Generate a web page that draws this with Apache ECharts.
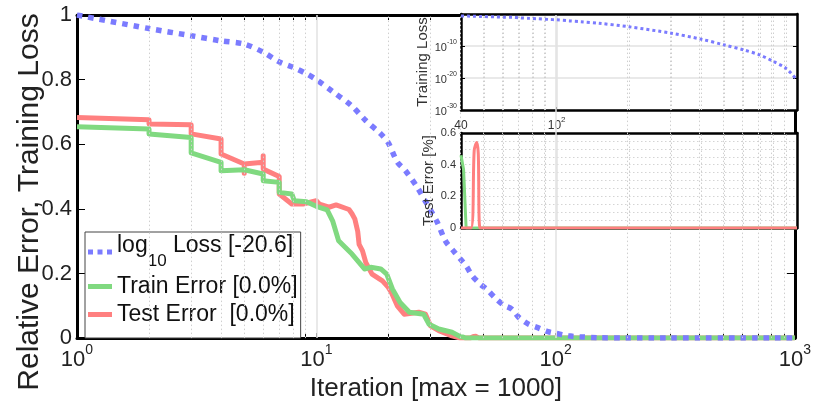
<!DOCTYPE html>
<html>
<head>
<meta charset="utf-8">
<script src="https://cdn.jsdelivr.net/npm/echarts@6/dist/echarts.min.js"></script>
<style>
html, body { margin: 0; padding: 0; background: #fff; }
#chart { width: 814px; height: 407px; }
</style>
</head>
<body>
<div id="chart"></div>
<script>
const lossIter = [1, 2, 3, 4, 5, 6, 7, 8, 9, 10, 11.7, 14, 16, 18.6, 20, 21.8, 23.6, 26.4, 29, 32,
    34.7, 37.6, 40, 42.6, 44.8, 48.5, 51.7, 56, 60.7, 65.6, 70, 77, 83, 93, 100, 113, 126,
    150, 200, 300, 400, 500, 600, 700, 800, 900, 1000];
const lossVal = [1, 0.958, 0.936, 0.92, 0.91, 0.885, 0.855, 0.838, 0.82, 0.80, 0.763, 0.72, 0.675, 0.632, 0.604, 0.545, 0.518, 0.467, 0.415, 0.359,
    0.30, 0.268, 0.245, 0.22, 0.193, 0.167, 0.15, 0.124, 0.102, 0.09, 0.065, 0.043, 0.034, 0.02, 0.015, 0.007, 0.004,
    1.3e-3, 1e-4, 1e-6, 1.3e-8, 2e-10, 6e-12, 1.6e-13, 1.3e-15, 1e-17, 2.5e-21];

// relative train error
const trainIter = [1, 2, 2, 3, 3, 4, 4, 5, 6, 6, 7, 7, 7.9, 8.1, 9.1, 10, 11.1, 11.7, 12.4, 13.2,
    14.1, 14.9, 15.9, 16.9, 18.6, 19.7, 20.8, 22.4, 24.5, 28.1, 29.6, 32.5, 36.9, 40, 41, 42, 1000];
const trainErr = [0.654, 0.647, 0.632, 0.621, 0.573, 0.544, 0.518, 0.521, 0.508, 0.487, 0.482, 0.451, 0.446, 0.425, 0.422, 0.408, 0.397, 0.363, 0.301, 0.281,
    0.26, 0.239, 0.214, 0.219, 0.214, 0.198, 0.152, 0.11, 0.08, 0.074, 0.043, 0.028, 0.018, 0.0046, 0.0037, 0, 0];

// relative test error
const testIter = [1, 2, 2, 3, 3, 4, 4, 5, 5, 5, 6, 6, 6, 7, 7, 7.9, 8.8, 10, 10.3, 11.3,
    12.1, 13.7, 14.1, 14.5, 14.9, 15.1, 15.6, 16.1, 17.1, 18.9, 20, 20.6, 21.8, 23.3, 26.8,
    28.6, 30, 32.5, 36.9, 40, 44, 45.4, 46.5, 47.2, 48, 1000];
const testErr = [0.683, 0.676, 0.663, 0.66, 0.632, 0.616, 0.57, 0.539, 0.51, 0.539, 0.544, 0.564, 0.523, 0.50, 0.446, 0.415, 0.415, 0.425, 0.415, 0.405,
    0.412, 0.398, 0.385, 0.368, 0.33, 0.29, 0.27, 0.234, 0.198, 0.177, 0.157, 0.141, 0.1, 0.074, 0.08,
    0.074, 0.038, 0.023, 0.007, 0, 0, 0.0049, 0.0054, 0.0047, 0, 0];

// ticks of the log x axis, its dotted minor and solid major grid lines
const xTicks = [1, 2, 3, 4, 5, 6, 7, 8, 9, 10, 20, 30, 40, 50, 60, 70, 80, 90, 100, 200, 300, 400, 500, 600, 700, 800, 900, 1000];
const minorX = [2, 3, 4, 5, 6, 7, 8, 9, 20, 30, 40, 50, 60, 70, 80, 90, 200, 300, 400, 500, 600, 700, 800, 900];
const majorX = [10, 100];
const insetMinorX = [50, 60, 70, 80, 90, 200, 300, 400, 500, 600, 700, 800, 900];

const names = ['log10 Loss [-20.6]', 'Train Error [0.0%]', 'Test Error  [0.0%]'];
const insetStart = 40;

const pairs = (xs, ys) => xs.map((x, i) => [x, ys[i]]);
const fromInset = (xs, ys, f) => pairs(xs, ys).filter(p => p[0] >= insetStart).map(p => [p[0], f(p[1])]);

const BLUE = '#7b7bff', GREEN = '#80d980', RED = '#ff8080';
const FONT = 'Liberation Sans, Arial, Helvetica, sans-serif';

const powLabel = e => '{b|10}{s|' + e + '}';

const frame = (w) => ({ show: true, onZero: false, lineStyle: { color: '#000', width: w } });

const DOTTED = { color: '#cfcfcf', width: 1, type: [1.5, 2.5] };
const SOLID = { color: '#e2e2e2', width: 1.5, type: 'solid' };

const gridLines = (xi, yi, vals, z, style) => ({
    type: 'line', xAxisIndex: xi, yAxisIndex: yi, data: [], z: z, silent: true,
    markLine: {
        silent: true, symbol: 'none', animation: false,
        label: { show: false },
        lineStyle: style,
        data: vals.map(v => ({ xAxis: v }))
    }
});

const chart = echarts.init(document.getElementById('chart'));

const option = {
    animation: false,
    textStyle: { fontFamily: FONT },
    grid: [
        { left: 77, top: 15, width: 720, height: 324 },
        { left: 461, top: 14, width: 336, height: 96, show: true, backgroundColor: '#fff', borderWidth: 0, z: 3 },
        { left: 461, top: 133, width: 336, height: 95, show: true, backgroundColor: '#fff', borderWidth: 0, z: 3 }
    ],
    legend: {
        data: [
            { name: names[0], icon: 'path://M0,0h5v5h-5zM9.5,0h5v5h-5zM19,0h5v5h-5z' },
            { name: names[1], icon: 'path://M0,0h24v5h-24z' },
            { name: names[2], icon: 'path://M0,0h24v5h-24z' }
        ],
        orient: 'vertical',
        left: 85, top: 232,
        padding: [2, 3, 12, 3],
        itemGap: 5,
        itemWidth: 24,
        itemHeight: 5,
        backgroundColor: '#fff',
        borderColor: '#444',
        borderWidth: 1,
        borderRadius: 0,
        textStyle: {
            fontSize: 23, color: '#111', lineHeight: 23,
            rich: {
                n: { fontSize: 23, color: '#111', lineHeight: 36, verticalAlign: 'top' },
                sub: { fontSize: 17, color: '#111', lineHeight: 36, verticalAlign: 'bottom' }
            }
        },
        formatter: name => name.indexOf('log10') === 0
            ? '{n|log}{sub|10}{n|' + name.slice(5) + '}'
            : name
    },
    graphic: [{
        type: 'text', x: 30, y: 202, rotation: Math.PI / 2,
        style: {
            text: 'Relative Error, Training Loss', font: '30px ' + FONT,
            fill: '#222', align: 'center', verticalAlign: 'middle'
        }
    }],
    xAxis: [
        {   // main, bottom
            type: 'log', logBase: 10, min: 1, max: 1000, gridIndex: 0, position: 'bottom',
            axisLine: frame(3),
            axisTick: { show: true, inside: true, length: 5, customValues: xTicks, lineStyle: { color: '#000' } },
            axisLabel: {
                formatter: v => powLabel(Math.round(Math.log10(v))), margin: 5, color: '#222',
                rich: {
                    b: { fontSize: 22, lineHeight: 28, color: '#222', verticalAlign: 'bottom' },
                    s: { fontSize: 14, lineHeight: 14, color: '#222', verticalAlign: 'top' }
                }
            },
            splitLine: { show: false },
            name: 'Iteration [max = 1000]', nameLocation: 'middle', nameGap: 33,
            nameTextStyle: { fontSize: 26, color: '#222' }
        },
        {   // main, top frame
            type: 'log', logBase: 10, min: 1, max: 1000, gridIndex: 0, position: 'top',
            axisLine: frame(3),
            axisTick: { show: true, inside: true, length: 5, customValues: xTicks, lineStyle: { color: '#000' } },
            axisLabel: { show: false }, splitLine: { show: false }
        },
        {   // inset 1, bottom
            type: 'log', logBase: 10, min: insetStart, max: 1000, gridIndex: 1, z: 4,
            axisLine: frame(2.5),
            axisTick: { show: true, inside: true, length: 3, lineStyle: { color: '#000' } },
            axisLabel: {
                margin: 6, color: '#333', fontSize: 12,
                formatter: v => {
                    const r = Math.round(v);
                    if (r === insetStart) return '{b|' + r + '}';
                    return r === 100 ? powLabel(2) : '';
                },
                rich: {
                    b: { fontSize: 12, lineHeight: 16, color: '#333', verticalAlign: 'bottom' },
                    s: { fontSize: 8, lineHeight: 8, color: '#333', verticalAlign: 'top' }
                }
            },
            splitLine: { show: true, lineStyle: SOLID }
        },
        {   // inset 1, top frame
            type: 'log', logBase: 10, min: insetStart, max: 1000, gridIndex: 1, position: 'top', z: 4,
            axisLine: frame(2.5), axisTick: { show: false }, axisLabel: { show: false }, splitLine: { show: false }
        },
        {   // inset 2, bottom
            type: 'log', logBase: 10, min: insetStart, max: 1000, gridIndex: 2, z: 4,
            axisLine: frame(2.5), axisTick: { show: false }, axisLabel: { show: false },
            splitLine: { show: true, lineStyle: SOLID }
        },
        {   // inset 2, top frame
            type: 'log', logBase: 10, min: insetStart, max: 1000, gridIndex: 2, position: 'top', z: 4,
            axisLine: frame(2.5), axisTick: { show: false }, axisLabel: { show: false }, splitLine: { show: false }
        }
    ],
    yAxis: [
        {   // main, left
            type: 'value', min: 0, max: 1, interval: 0.2, gridIndex: 0,
            axisLine: frame(3),
            axisTick: { show: true, inside: true, length: 8, lineStyle: { color: '#000' } },
            axisLabel: { fontSize: 22, color: '#222', margin: 5 },
            splitLine: { show: false }
        },
        {   // main, right frame
            type: 'value', min: 0, max: 1, interval: 0.2, gridIndex: 0, position: 'right',
            axisLine: frame(3),
            axisTick: { show: true, inside: true, length: 8, lineStyle: { color: '#000' } },
            axisLabel: { show: false }, splitLine: { show: false }
        },
        {   // inset 1, training loss as a power of ten
            type: 'value', min: -30, max: 0, interval: 10, gridIndex: 1, z: 4,
            axisLine: frame(2.5),
            axisTick: { show: true, inside: true, length: 4, lineStyle: { color: '#000' } },
            axisLabel: {
                margin: 4, color: '#333',
                formatter: v => (v === 0 ? '' : powLabel(v)),
                rich: {
                    b: { fontSize: 11, lineHeight: 15, color: '#333', verticalAlign: 'bottom' },
                    s: { fontSize: 7, lineHeight: 7, color: '#333', verticalAlign: 'top' }
                }
            },
            splitLine: { show: true, lineStyle: SOLID },
            name: 'Training Loss', nameLocation: 'middle', nameGap: 29,
            nameTextStyle: { fontSize: 15, color: '#333' }
        },
        {
            type: 'value', min: -30, max: 0, interval: 10, gridIndex: 1, position: 'right', z: 4,
            axisLine: frame(2.5),
            axisTick: { show: true, inside: true, length: 4, lineStyle: { color: '#000' } },
            axisLabel: { show: false }, splitLine: { show: false }
        },
        {   // inset 2, error in percent
            type: 'value', min: 0, max: 0.6, interval: 0.2, gridIndex: 2, z: 4,
            axisLine: frame(2.5),
            axisTick: { show: false },
            axisLabel: { fontSize: 11, color: '#333', margin: 5 },
            minorTick: { show: false, splitNumber: 4 },
            splitLine: { show: true, lineStyle: { color: '#d4d4d4', width: 1, type: [1.5, 2.5] } },
            minorSplitLine: { show: true, lineStyle: { color: '#d4d4d4', width: 1, type: [1.5, 2.5] } },
            name: 'Test Error [%]', nameLocation: 'middle', nameGap: 21,
            nameTextStyle: { fontSize: 15, color: '#333' }
        },
        {
            type: 'value', min: 0, max: 0.6, interval: 0.2, gridIndex: 2, position: 'right', z: 4,
            axisLine: frame(2.5), axisTick: { show: false }, axisLabel: { show: false }, splitLine: { show: false }
        }
    ],
    series: [
        gridLines(0, 0, minorX, 1, DOTTED),
        gridLines(0, 0, majorX, 1, SOLID),
        gridLines(2, 2, insetMinorX, 4, DOTTED),
        gridLines(4, 4, insetMinorX, 4, DOTTED),
        {
            name: names[2], type: 'line', xAxisIndex: 0, yAxisIndex: 0, z: 2,
            data: pairs(testIter, testErr), symbol: 'none', color: RED,
            lineStyle: { color: RED, width: 5, join: 'round' }
        },
        {
            name: names[1], type: 'line', xAxisIndex: 0, yAxisIndex: 0, z: 2,
            data: pairs(trainIter, trainErr), symbol: 'none', color: GREEN,
            lineStyle: { color: GREEN, width: 5, join: 'round' }
        },
        {
            name: names[0], type: 'line', xAxisIndex: 0, yAxisIndex: 0, z: 2,
            data: pairs(lossIter, lossVal), symbol: 'none', smooth: 0.3, color: BLUE,
            lineStyle: { color: BLUE, width: 5.5, type: [5.5, 6], cap: 'butt' }
        },
        {
            name: 'inset loss', type: 'line', xAxisIndex: 2, yAxisIndex: 2, z: 5,
            data: fromInset(lossIter, lossVal, Math.log10), symbol: 'none', smooth: 0.3,
            lineStyle: { color: BLUE, width: 3, type: [3, 3] }
        },
        {
            name: 'inset train', type: 'line', xAxisIndex: 4, yAxisIndex: 4, z: 5,
            data: fromInset(trainIter, trainErr, v => v * 100), symbol: 'none',
            lineStyle: { color: GREEN, width: 3 }
        },
        {
            name: 'inset test', type: 'line', xAxisIndex: 4, yAxisIndex: 4, z: 5,
            data: fromInset(testIter, testErr, v => v * 100), symbol: 'none', smooth: 0.3,
            lineStyle: { color: RED, width: 3 }
        }
    ]
};

chart.setOption(option);
</script>
</body>
</html>
